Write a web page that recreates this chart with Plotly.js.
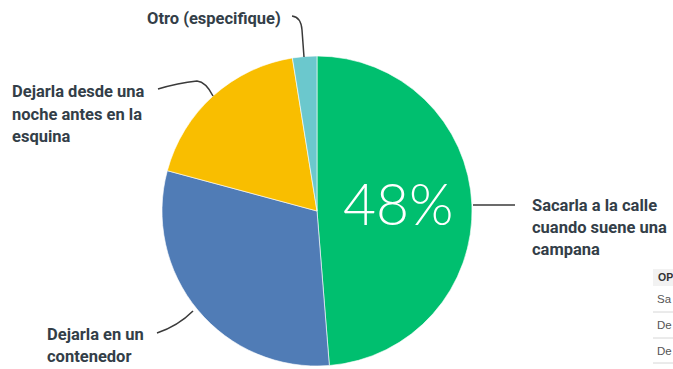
<!DOCTYPE html>
<html>
<head>
<meta charset="utf-8">
<script src="https://cdn.plot.ly/plotly-3.0.1.min.js"></script>
<style>html,body{margin:0;padding:0;background:#fff;}#chart{width:673px;height:369px;}</style>
</head>
<body>
<div id="chart"></div>
<script>
// Data (percent of responses)
const categories = [
  "Sacarla a la calle cuando suene una campana",
  "Dejarla en un contenedor",
  "Dejarla desde una noche antes en la esquina",
  "Otro (especifique)"
];
const values = [48, 30, 18, 2.5];
const sliceColors = ["#00BF6F", "#507CB6", "#F9BE00", "#6BC8CD"];
const labelLines = [
  ["Sacarla a la calle", "cuando suene una", "campana"],
  ["Dejarla en un", "contenedor"],
  ["Dejarla desde una", "noche antes en la", "esquina"],
  ["Otro (especifique)"]
];
// visible (cut-off) part of the answer table at the right edge
const tableHeader = "OP";
const tableRows = ["Sa", "De", "De"];

const W = 673, H = 369;
const px = x => x / W;
const py = y => 1 - y / H;
function pathOf(cmds) {
  return cmds.map(c => c[0] + " " + c.slice(1).map((v, i) => (i % 2 === 0 ? px(v) : py(v)).toFixed(5)).join(" ")).join(" ");
}

const trace = {
  type: "pie",
  labels: categories,
  values: values,
  sort: false,
  direction: "clockwise",
  rotation: 0,
  marker: {colors: sliceColors, line: {color: "rgba(255,255,255,0.6)", width: 1}},
  textinfo: "none",
  hoverinfo: "label+percent",
  showlegend: false,
  domain: {x: [px(162), px(472)], y: [py(366), py(56)]}
};

const labelFont = {family: "Roboto, 'Open Sans', sans-serif", size: 16.5, color: "#333e48", weight: 700};
const labelPos = [
  {x: 530, ys: [205, 227, 249]},
  {x: 45, ys: [334, 356]},
  {x: 10, ys: [91, 114, 136]},
  {x: 145, ys: [19]}
];
const annotations = [];
// big percentage inside the largest slice
annotations.push({
  text: values[0] + "%", xref: "paper", yref: "paper",
  x: px(398), y: py(203), xanchor: "center", yanchor: "middle", showarrow: false,
  font: {family: "Lato, Roboto, sans-serif", size: 57, color: "#ffffff", weight: 300}
});
labelLines.forEach((lines, k) => {
  lines.forEach((t, j) => {
    annotations.push({
      text: t, xref: "paper", yref: "paper",
      x: px(labelPos[k].x), y: py(labelPos[k].ys[j]),
      xanchor: "left", yanchor: "middle", showarrow: false,
      font: labelFont
    });
  });
});

const tFont = {family: "'Liberation Sans', Arial, sans-serif", size: 11.5, color: "#555"};
annotations.push({text: "<b>" + tableHeader + "</b>", xref: "paper", yref: "paper",
  x: px(656), y: py(277), xanchor: "left", yanchor: "middle", showarrow: false,
  font: {family: tFont.family, size: 10.5, color: "#333"}});
const rowY = [299, 325, 351];
tableRows.forEach((t, i) => annotations.push({text: t, xref: "paper", yref: "paper",
  x: px(655), y: py(rowY[i]), xanchor: "left", yanchor: "middle", showarrow: false, font: tFont}));

const lineStyle = {color: "#3a3a3a", width: 1.5};
const shapes = [
  {type: "path", xref: "paper", yref: "paper", line: lineStyle,
   path: pathOf([["M", 473, 205], ["L", 515, 205]])},
  {type: "path", xref: "paper", yref: "paper", line: lineStyle,
   path: pathOf([["M", 157, 333], ["Q", 178, 326, 193, 311]])},
  {type: "path", xref: "paper", yref: "paper", line: lineStyle,
   path: pathOf([["M", 158, 89], ["Q", 178, 83, 197, 81], ["Q", 206, 82, 213, 96]])},
  {type: "path", xref: "paper", yref: "paper", line: lineStyle,
   path: pathOf([["M", 292, 16], ["Q", 301, 17, 302, 30], ["L", 304, 57]])},
  {type: "rect", xref: "paper", yref: "paper", layer: "below",
   x0: px(653), x1: px(690), y0: py(286), y1: py(269), fillcolor: "#f2f2f2", line: {width: 0}},
  {type: "line", xref: "paper", yref: "paper", x0: px(653), x1: px(690), y0: py(312), y1: py(312), line: {color: "#d6d6d6", width: 1}},
  {type: "line", xref: "paper", yref: "paper", x0: px(653), x1: px(690), y0: py(338), y1: py(338), line: {color: "#d6d6d6", width: 1}},
  {type: "line", xref: "paper", yref: "paper", x0: px(653), x1: px(690), y0: py(363), y1: py(363), line: {color: "#d6d6d6", width: 1}}
];

const layout = {
  width: W, height: H,
  margin: {l: 0, r: 0, t: 0, b: 0, pad: 0},
  paper_bgcolor: "#ffffff",
  showlegend: false,
  annotations: annotations,
  shapes: shapes
};
Plotly.newPlot("chart", [trace], layout, {displayModeBar: false, staticPlot: true});
</script>
</body>
</html>
